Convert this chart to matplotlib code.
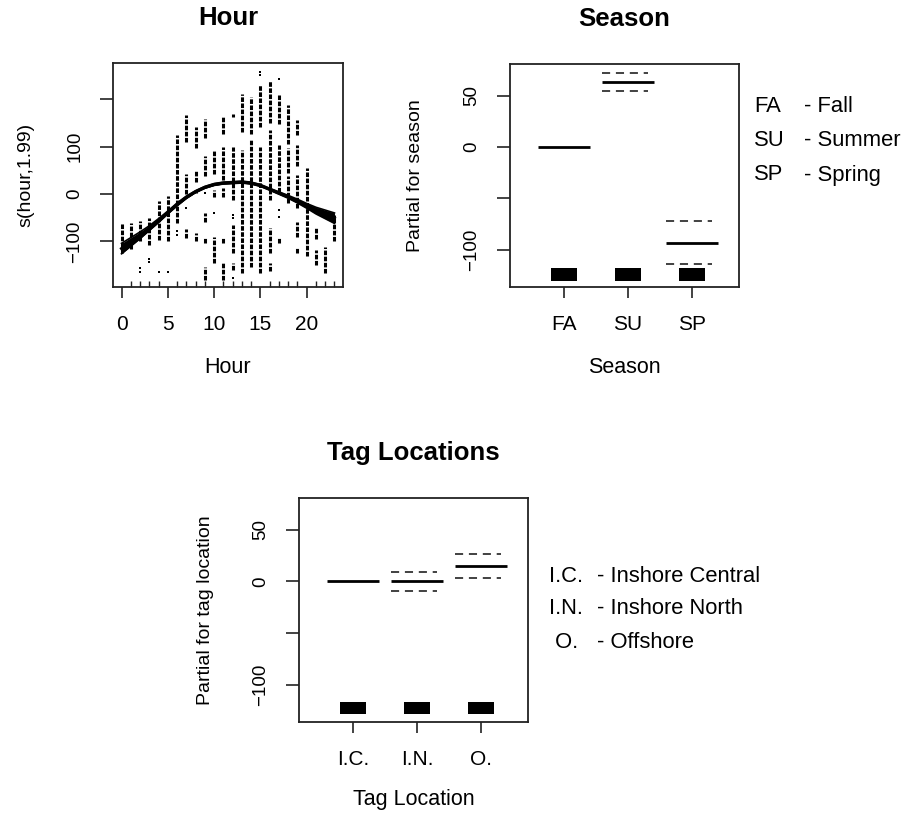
import matplotlib
matplotlib.use("Agg")
import matplotlib.pyplot as plt
import numpy as np

plt.rcParams['font.family'] = ['Liberation Sans', 'DejaVu Sans']

# ---------------- data ----------------
hours = list(range(24))
# partial residual columns per hour: (low, high) stacks of points
hour_segments = [
    [(-124, -61)],
    [(-115, -62)],
    [(-100, -57)],
    [(-108, -51)],
    [(-97, -15)],
    [(-100, -5)],
    [(-62, 124)],
    [(-93, -73), (1, 43), (110, 166)],
    [(-100, -83), (2, 9), (26, 50), (96, 141)],
    [(-181, -153), (-104, -93), (-58, -41), (37, 79), (117, 158)],
    [(-146, -90), (-6, 9), (43, 92)],
    [(-181, -146), (-104, -93), (-6, 12), (29, 99), (127, 162)],
    [(-160, -146), (-125, -65), (-13, 99), (162, 169)],
    [(-167, 92), (131, 210)],
    [(-153, 113), (127, 204)],
    [(-167, 99), (141, 230)],
    [(-163, -146), (-125, -72), (-12, 134), (149, 238)],
    [(-104, -90), (5, 103), (148, 208)],
    [(-20, 37), (44, 96), (106, 187)],
    [(-125, -111), (-90, -60), (-30, 40), (60, 103), (124, 155)],
    [(-130, 55)],
    [(-150, -118), (-95, -72)],
    [(-167, -111)],
    [(-100, -45)],
]
# isolated residual points per hour
hour_points = [
    [], [], [-155, -164], [-136, -143], [-164], [-164], [-79, -86], [-30],
    [], [2], [-41], [], [-178, -44, -51], [], [], [250, 257],
    [], [-34, -48, 243], [], [], [], [], [], [],
]
smooth_fit = [-115, -101, -87, -72, -56, -39, -22, -7, 5, 14, 20, 23,
              24, 25, 23, 18, 10, 2, -6, -15, -25, -35, -43, -51]
smooth_se = [11, 9, 7, 5, 4, 3, 3, 2.5, 2, 2, 2, 2,
             2, 2, 2, 2, 2, 2.5, 3, 4, 5, 7, 9, 11]

season_levels = ['FA', 'SU', 'SP']
season_fit = [0, 63, -93.5]
season_upper = [None, 72, -72]
season_lower = [None, 54.5, -114]
season_rug = [(-130.5, -117.8), (-130.5, -117.8), (-130.5, -117.8)]
season_legend_abbr = ['FA', 'SU', 'SP']
season_legend_desc = ['- Fall', '- Summer', '- Spring']

tag_levels = ['I.C.', 'I.N.', 'O.']
tag_fit = [0, 0.5, 14.5]
tag_upper = [None, 9, 27]
tag_lower = [None, -9, 3]
tag_rug = [(-128.6, -117), (-128.6, -117), (-128.6, -117)]
tag_legend_abbr = ['I.C.', 'I.N.', ' O.']
tag_legend_desc = ['- Inshore Central', '- Inshore North', '- Offshore']

# ---------------- figure ----------------
W, H = 901, 816
fig = plt.figure(figsize=(W / 100, H / 100), dpi=100)


def ax_at(left, top, right, bottom):
    return fig.add_axes([left / W, 1 - bottom / H, (right - left) / W, (bottom - top) / H])


def ftext(x, y, s, **kw):
    fig.text(x / W, 1 - y / H, s, **kw)


XTICK = 15
YTICK = 13.5
XLAB = 15.5
YLAB = 14
TIT = 18.5
LEG = 15.8


def style_axes(ax):
    for sp in ax.spines.values():
        sp.set_linewidth(1.3)
        sp.set_color('#222222')
    ax.tick_params(axis='both', which='major', direction='out', width=1.2, color='#222222')
    ax.tick_params(axis='x', which='major', length=8, pad=12, labelsize=XTICK)
    ax.tick_params(axis='y', which='major', length=9.5, pad=12, labelsize=YTICK)


# ---- Hour panel ----
ax1 = ax_at(113, 63, 343, 287)
for h, segs in zip(hours, hour_segments):
    for lo, hi in segs:
        ax1.vlines(h, lo, hi, colors='black', linewidth=2.2, linestyles=(0, (1.5, 0.5)))
for h, pts in zip(hours, hour_points):
    if pts:
        ax1.scatter([h] * len(pts), pts, s=3, marker='s', color='black', linewidths=0)
fit = np.array(smooth_fit, dtype=float)
se = np.array(smooth_se, dtype=float)
ax1.fill_between(hours, fit - se, fit + se, color='black', linewidth=0)
ax1.plot(hours, fit - se, color='black', linewidth=1.2)
ax1.plot(hours, fit + se, color='black', linewidth=1.2)
ax1.plot(hours, fit, color='black', linewidth=2.2)
ax1.set_xlim(-0.92, 23.92)
ax1.set_ylim(-196, 276)
ax1.set_xticks([0, 5, 10, 15, 20])
ax1.set_xticklabels(['0', '5', '10', '15', '20'])
ax1.set_xticks(hours, minor=True)
ax1.tick_params(axis='x', which='minor', direction='in', length=4, width=1.0, color='#222222')
ax1.set_yticks([-100, 0, 100, 200])
ax1.set_yticklabels(['\u2212100', '0', '100', ''], rotation=90, va='center')
style_axes(ax1)
ftext(228, 18, 'Hour', ha='center', va='center', fontsize=TIT, fontweight='bold')
ftext(228, 368, 'Hour', ha='center', va='center', fontsize=XLAB)
ftext(26, 175, 's(hour,1.99)', ha='center', va='center', fontsize=YLAB, rotation=90)


def factor_panel(ax, levels, fit, upper, lower, rug):
    xs = np.arange(1, len(levels) + 1)
    hw = 0.41
    for x, f, u, l, (rb, rt) in zip(xs, fit, upper, lower, rug):
        ax.plot([x - hw, x + hw], [f, f], color='black', linewidth=2.0, solid_capstyle='butt')
        if u is not None:
            ax.plot([x - hw, x + 0.31], [u, u], color='#333333', linewidth=1.3,
                    linestyle=(0, (4.5, 3.2)))
            ax.plot([x - hw, x + 0.31], [l, l], color='#333333', linewidth=1.3,
                    linestyle=(0, (4.5, 3.2)))
        ax.bar(x, rt - rb, bottom=rb, width=0.42, color='black', linewidth=0)
    ax.set_xlim(0.156, 3.734)
    ax.set_ylim(-136.3, 80.8)
    ax.set_xticks(xs)
    ax.set_xticklabels(levels)
    ax.set_yticks([-100, -50, 0, 50])
    ax.set_yticklabels(['\u2212100', '', '0', '50'], rotation=90, va='center')
    style_axes(ax)


# ---- Season panel ----
ax2 = ax_at(510, 64, 739, 287)
factor_panel(ax2, season_levels, season_fit, season_upper, season_lower, season_rug)
ftext(624.5, 19, 'Season', ha='center', va='center', fontsize=TIT, fontweight='bold')
ftext(624.5, 368, 'Season', ha='center', va='center', fontsize=XLAB)
ftext(416, 176, 'Partial for season', ha='center', va='center', fontsize=YLAB, rotation=90)
for i, (a, d) in enumerate(zip(season_legend_abbr, season_legend_desc)):
    yy = [107, 141, 175][i]
    ftext(754, yy, a, ha='left', va='center', fontsize=LEG)
    ftext(804, yy, d, ha='left', va='center', fontsize=LEG)

# ---- Tag location panel ----
ax3 = ax_at(299, 498, 528, 722)
factor_panel(ax3, tag_levels, tag_fit, tag_upper, tag_lower, tag_rug)
ftext(413.5, 453, 'Tag Locations', ha='center', va='center', fontsize=TIT, fontweight='bold')
ftext(413.5, 800, 'Tag Location', ha='center', va='center', fontsize=XLAB)
ftext(205, 610, 'Partial for tag location', ha='center', va='center', fontsize=YLAB, rotation=90)
for i, (a, d) in enumerate(zip(tag_legend_abbr, tag_legend_desc)):
    yy = [576, 609, 642][i]
    ftext(549, yy, a, ha='left', va='center', fontsize=LEG)
    ftext(597, yy, d, ha='left', va='center', fontsize=LEG)

fig.savefig('out.png', dpi=100)
